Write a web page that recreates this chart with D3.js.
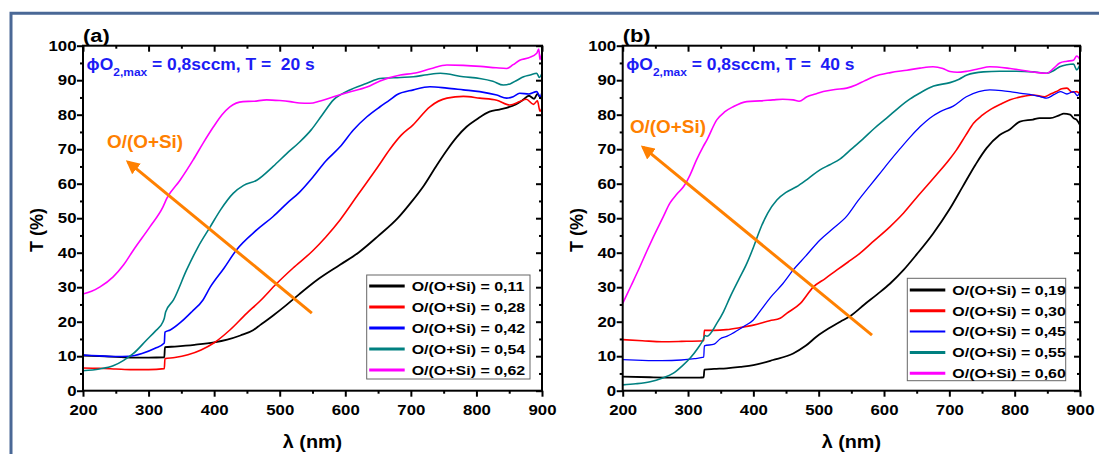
<!DOCTYPE html>
<html><head><meta charset="utf-8">
<script src="https://cdn.jsdelivr.net/npm/d3@7"></script>
<style>
html,body{margin:0;padding:0;background:#fff;}
svg{display:block;font-family:"Liberation Sans",Arial,sans-serif;font-weight:bold;}
text{white-space:pre;}
</style></head><body>
<svg id="chart" width="1099" height="454"></svg>
<script>
// ---------- data ----------
const xTicks = [200, 300, 400, 500, 600, 700, 800, 900];
const xMinor = [250, 350, 450, 550, 650, 750, 850];
const yTicks = [0, 10, 20, 30, 40, 50, 60, 70, 80, 90, 100];
const yMinor = [5, 15, 25, 35, 45, 55, 65, 75, 85, 95];
const colors = ["#000000", "#ff0000", "#0000ff", "#008080", "#ff00ff"];
const labelsA = ["O/(O+Si) = 0,11", "O/(O+Si) = 0,28", "O/(O+Si) = 0,42", "O/(O+Si) = 0,54", "O/(O+Si) = 0,62"];
const labelsB = ["O/(O+Si) = 0,19", "O/(O+Si) = 0,30", "O/(O+Si) = 0,45", "O/(O+Si) = 0,55", "O/(O+Si) = 0,60"];
const panelLetters = ["(a)", "(b)"];
const durations = ["20 s", "40 s"];

// panel (a) spectra, [wavelength nm, T %]
const a011 = [[200,10.2],[225,10],[250,9.8],[275,9.6],[300,9.6],[324,9.7],[325,12.6],[340,12.8],[370,13.3],[400,14],[420,14.8],[440,16],[460,17.6],[470,19],[490,21.8],[510,24.8],[530,28],[560,32.5],[592,36.5],[620,40],[650,44.8],[680,50],[700,54.5],[720,59.5],[740,65.5],[756,70],[770,73.5],[785,76.5],[800,78.6],[820,80.9],[835,81.5],[846,82],[860,83],[871,84.3],[880,85.5],[888,84.6],[893,86],[897,85],[900,84.5]];
const a028 = [[200,6.6],[225,6.5],[250,6.3],[275,6.1],[300,6.1],[324,6.4],[325,9.3],[340,9.6],[360,10.4],[380,11.8],[400,13.9],[424,17.6],[450,22.5],[470,26],[495,31],[520,35.5],[550,40.5],[570,44.5],[592,49.5],[620,57],[650,65],[668,70],[685,74],[703,77],[729,82.3],[755,84.8],[780,85.3],[805,84.8],[831,84.2],[851,82.8],[866,83.8],[876,84.5],[887,83],[893,84],[897,81],[900,82]];
const a042 = [[200,10.3],[225,10.1],[250,9.9],[270,10],[290,10.8],[310,12.3],[324,13.8],[325,17],[333,17.6],[350,20],[366,22.9],[383,26.3],[394,30],[415,35.5],[434,40.8],[465,46.6],[490,50.5],[511,54.3],[530,57.5],[551,62],[570,66.5],[592,70.7],[612,75.5],[633,79.4],[653,82.3],[668,84.3],[678,85.7],[704,87.2],[729,88.1],[755,87.7],[780,87.2],[805,86.7],[831,85.7],[846,84.8],[856,85.2],[866,86.2],[880,86],[892,86.7],[897,85.2],[900,86.5]];
const a054 = [[200,5.8],[225,6.3],[246,7.2],[262,8.8],[277,10.8],[297,14.7],[310,17.2],[322,20],[324,21],[326,22.8],[338,26.3],[358,35],[375,41.5],[394,47.5],[410,52.5],[429,57.2],[445,59.5],[465,61],[490,65],[511,68.8],[530,72],[548,75.6],[565,80],[582,84.3],[605,87],[633,89.1],[653,90.5],[684,90.8],[704,91],[725,91.6],[745,92],[780,91],[805,90.5],[825,89.7],[841,88.6],[852,89],[862,90],[872,91],[882,91.5],[892,92],[896,90.8],[900,92]];
const a062 = [[200,28],[213,28.8],[226,30.1],[246,33],[262,36.5],[277,40.8],[302,47.5],[322,53.3],[328,55.8],[348,61],[368,66.9],[383,71.7],[399,76.5],[412,80],[424,82.3],[444,83.8],[460,83.9],[480,84.3],[500,84.1],[516,83.8],[530,83.4],[546,83.3],[562,84],[582,85.2],[605,86.5],[633,88],[653,89.8],[684,91.5],[704,92],[730,93.3],[755,94.4],[780,94.3],[806,94],[830,93.6],[846,93.4],[856,94.5],[866,95.8],[880,96.5],[892,97.8],[895,99],[897,96],[900,98]];

// panel (b) spectra
const b019 = [[200,4.1],[242,3.9],[280,3.8],[318,3.8],[324,3.9],[325,6.1],[340,6.3],[359,6.5],[380,6.9],[400,7.4],[430,8.9],[461,10.8],[480,13],[497,15.7],[515,18],[533,20],[548,21.6],[570,25],[590,28],[609,31],[630,35],[650,39.5],[675,45.5],[700,52.5],[720,59],[740,65.5],[757,70.3],[777,74.1],[793,75.8],[808,78],[828,78.6],[838,79],[854,79],[869,79.9],[875,80.3],[885,80],[890,79],[895,78.5],[900,77]];
const b030 = [[200,14.8],[230,14.5],[260,14.2],[290,14.3],[324,14.5],[325,17.5],[340,17.5],[359,17.7],[380,18.3],[400,19],[425,20.3],[441,21],[451,22.4],[472,25.3],[492,30.1],[510,32.5],[528,35],[545,37.3],[563,39.8],[585,43.5],[609,47.5],[630,51.5],[650,56],[680,62.5],[700,67],[711,69.8],[725,74],[737,77.5],[750,79.8],[762,81.4],[780,83.2],[793,84.3],[810,85.2],[828,85.7],[846,85.2],[855,86],[864,86.7],[872,87.5],[880,87.7],[888,86.5],[895,86.7],[900,86]];
const b045 = [[200,9],[230,8.8],[260,8.7],[290,8.9],[310,9.3],[324,9.7],[325,13],[340,13.5],[349,15],[360,15.8],[367,16.5],[385,18.6],[400,20.5],[412,23.5],[426,27],[445,31],[461,35],[480,39],[502,43.7],[522,47],[543,50.6],[560,55],[578,59.3],[595,63.3],[609,66.6],[624,70],[640,73.5],[655,76.5],[670,79],[686,80.9],[706,82.5],[726,85.2],[745,86.7],[762,87.2],[780,87],[793,86.7],[810,86.2],[828,85.7],[840,85.2],[849,84.8],[860,85.8],[870,86.7],[880,86],[890,86.7],[896,85.5],[900,86.5]];
const b055 = [[200,1.7],[220,2],[242,2.6],[260,3.6],[277,5],[290,7],[303,9.4],[315,12.3],[323,14.7],[326,16],[329,15.8],[344,19.5],[354,22.8],[364,27],[377,32],[390,36.9],[400,41.5],[410,46.6],[422,51.5],[436,55.3],[450,57.5],[466,59.1],[484,61.5],[502,64],[517,65.5],[533,67.2],[550,70],[568,73],[585,76],[604,79],[624,82.3],[640,84.6],[655,86.3],[676,88.3],[701,89.3],[715,90.3],[727,91.5],[752,92.4],[777,92.6],[803,92.6],[828,92.4],[849,92],[860,92.8],[869,93.9],[880,94.5],[890,94.7],[895,93],[900,94.5]];
const b060 = [[200,25.3],[213,30.5],[226.5,36],[237,40.5],[247,44.6],[262,50.4],[272,54.3],[283,57],[293,59.1],[303,62.5],[313,66.9],[323,70.7],[329,72.7],[344,78.5],[356,80.8],[369,82.3],[390,83.8],[410,84],[430,84.3],[445,84.5],[461,84.3],[470,83.9],[482,85.2],[495,86],[507,86.7],[525,87.3],[543,87.7],[557,88.6],[570,89.8],[584,91],[610,92.2],[635,92.9],[655,93.5],[675,93.9],[690,93.4],[701,92.5],[712,92.3],[727,92.6],[745,93.3],[762,93.9],[793,93.4],[828,92.4],[849,92],[860,93.5],[869,95],[880,95.5],[890,95.8],[895,97],[900,96]];

// arrow annotation in data units: [tail], [head]
const arrowA = [[549, 22.5], [268.6, 66.3]];
const arrowB = [[581.6, 16.1], [231, 70.6]];
const arrowTextA = [236.6, 70.3];
const arrowTextB = [211, 74.7];

// ---------- drawing ----------
const svg = d3.select("#chart");
const ORANGE = "#ff8000";
const BLUE_TXT = "#1c1cf5";

// outer frame
svg.append("path").attr("d", "M11,454 V13.3 H1099").attr("fill", "none")
  .attr("stroke", "#4a6896").attr("stroke-width", 3);

svg.append("defs").append("marker").attr("id", "ah")
  .attr("viewBox", "0 0 10 10").attr("refX", 8).attr("refY", 5)
  .attr("markerWidth", 4.6).attr("markerHeight", 4.6).attr("markerUnits", "strokeWidth")
  .attr("orient", "auto")
  .append("path").attr("d", "M0,0 L10,5 L0,10 Z").attr("fill", ORANGE);

function stretchText(g, x, y, str, size, sx, anchor, fill) {
  return g.append("text")
    .attr("transform", `translate(${x},${y}) scale(${sx},1)`)
    .attr("text-anchor", anchor || "start")
    .style("font-size", size + "px")
    .attr("fill", fill || "#000")
    .text(str);
}

const panels = [
  { x0: 83, x1: 542, series: [a011, a028, a042, a054, a062], labels: labelsA,
    legend: { x: 366.7, y: 275, w: 163.3, h: 104, row0: 11, dy: 21 }, arrow: arrowA, atext: arrowTextA,
    widths: [1.8, 1.6, 1.6, 1.6, 1.6], lw: [3, 3, 3, 3, 3] },
  { x0: 622.7, x1: 1080, series: [b019, b030, b045, b055, b060], labels: labelsB,
    legend: { x: 907.3, y: 278.3, w: 158.4, h: 102.4, row0: 11.7, dy: 20.8 }, arrow: arrowB, atext: arrowTextB,
    widths: [1.8, 1.6, 1.3, 1.6, 1.6], lw: [3, 3, 2, 3, 3] }
];

const yTop = 45.7, yBot = 390.7;

panels.forEach((p, pi) => {
  const g = svg.append("g");
  const x = d3.scaleLinear().domain([200, 900]).range([p.x0, p.x1]);
  const y = d3.scaleLinear().domain([0, 100]).range([yBot, yTop]);

  // curves
  const line = d3.line().x(d => x(d[0])).y(d => y(d[1])).curve(d3.curveMonotoneX);
  p.series.forEach((s, i) => {
    g.append("path").datum(s).attr("d", line).attr("fill", "none")
      .attr("stroke", colors[i]).attr("stroke-width", p.widths[i])
      .attr("stroke-linejoin", "round");
  });

  // axes
  const styleAxis = sel => { sel.select(".domain").remove(); sel.selectAll("line").attr("stroke", "#000").attr("stroke-width", 2); };
  const bottom = g.append("g").attr("transform", `translate(0,${yBot})`)
    .call(d3.axisBottom(x).tickValues(xTicks).tickSize(6).tickPadding(8).tickFormat(d3.format("d")));
  bottom.call(styleAxis);
  bottom.selectAll("text").style("font-size", "14px").attr("fill", "#000").attr("transform", "scale(1.2,1)")
    .style("font-family", '"Liberation Sans",Arial,sans-serif').style("font-weight", "bold");
  g.append("g").attr("transform", `translate(0,${yBot})`)
    .call(d3.axisBottom(x).tickValues(xMinor).tickSize(3).tickFormat("")).call(styleAxis);

  const left = g.append("g").attr("transform", `translate(${p.x0},0)`)
    .call(d3.axisLeft(y).tickValues(yTicks).tickSize(6).tickPadding(1).tickFormat(d3.format("d")));
  left.call(styleAxis);
  left.selectAll("text").style("font-size", "14px").attr("fill", "#000")
    .attr("x", -6.5 / 1.2).attr("transform", "scale(1.2,1)")
    .style("font-family", '"Liberation Sans",Arial,sans-serif').style("font-weight", "bold");
  g.append("g").attr("transform", `translate(${p.x0},0)`)
    .call(d3.axisLeft(y).tickValues(yMinor).tickSize(3).tickFormat("")).call(styleAxis);

  g.append("g").attr("transform", `translate(0,${yTop})`)
    .call(d3.axisTop(x).tickValues(xTicks).tickSize(-6).tickFormat("")).call(styleAxis);
  g.append("g").attr("transform", `translate(0,${yTop})`)
    .call(d3.axisTop(x).tickValues(xMinor).tickSize(-3).tickFormat("")).call(styleAxis);
  g.append("g").attr("transform", `translate(${p.x1},0)`)
    .call(d3.axisRight(y).tickValues(yTicks).tickSize(-6).tickFormat("")).call(styleAxis);
  g.append("g").attr("transform", `translate(${p.x1},0)`)
    .call(d3.axisRight(y).tickValues(yMinor).tickSize(-3).tickFormat("")).call(styleAxis);

  // plot frame
  g.append("rect").attr("x", p.x0).attr("y", yTop).attr("width", p.x1 - p.x0).attr("height", yBot - yTop)
    .attr("fill", "none").attr("stroke", "#000").attr("stroke-width", 2);

  // axis titles
  stretchText(g, (p.x0 + p.x1) / 2, 448, "λ (nm)", 18, 1.1, "middle");
  g.append("text").attr("transform", `translate(${p.x0 - 40},230) rotate(-90)`)
    .attr("text-anchor", "middle").style("font-size", "18px").attr("fill", "#000").text("T (%)");

  // panel letter
  stretchText(g, p.x0, 42, panelLetters[pi], 19, 1.15, "start");

  // blue annotation
  const ann = g.append("text").attr("transform", `translate(${x(205.5)},${y(93)}) scale(1.09,1)`)
    .attr("fill", BLUE_TXT).style("font-size", "16px");
  ann.append("tspan").text("ϕO");
  ann.append("tspan").attr("dy", 6.5).style("font-size", "11px").text("2,max");
  ann.append("tspan").attr("dy", -6.5).text(" = 0,8sccm, T =  " + durations[pi]);

  // orange arrow + text
  g.append("line")
    .attr("x1", x(p.arrow[0][0])).attr("y1", y(p.arrow[0][1]))
    .attr("x2", x(p.arrow[1][0])).attr("y2", y(p.arrow[1][1]))
    .attr("stroke", ORANGE).attr("stroke-width", 3).attr("marker-end", "url(#ah)");
  stretchText(g, x(p.atext[0]), y(p.atext[1]), "O/(O+Si)", 18, 1.05, "start", ORANGE);

  // legend
  const L = p.legend;
  const lg = g.append("g");
  lg.append("rect").attr("x", L.x).attr("y", L.y).attr("width", L.w).attr("height", L.h)
    .attr("fill", "#fff").attr("stroke", "#666").attr("stroke-width", 1);
  p.labels.forEach((lab, i) => {
    const ry = L.y + L.row0 + i * L.dy;
    lg.append("line").attr("x1", L.x + 2.5).attr("x2", L.x + 38).attr("y1", ry).attr("y2", ry)
      .attr("stroke", colors[i]).attr("stroke-width", p.lw[i]);
    stretchText(lg, L.x + 45, ry + 4.7, lab, 13.3, 1.2, "start");
  });
});
</script>
</body></html>
